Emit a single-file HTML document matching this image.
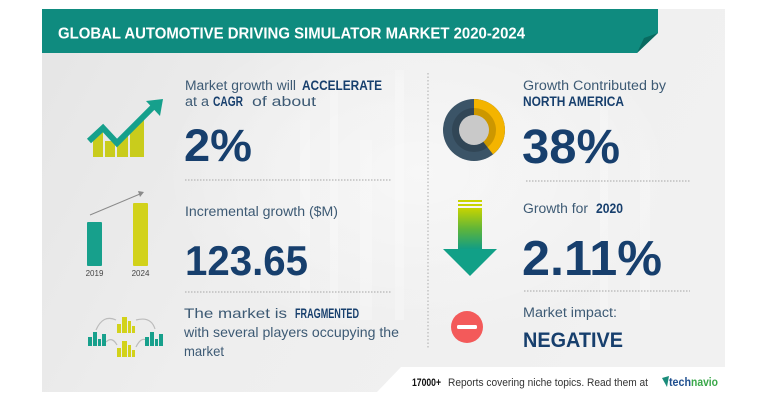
<!DOCTYPE html>
<html><head><meta charset="utf-8"><style>
html,body{margin:0;padding:0;background:#fff;}
svg{display:block;}
text{font-family:"Liberation Sans",sans-serif;}
</style></head><body>
<svg width="768" height="401" viewBox="0 0 768 401" xmlns="http://www.w3.org/2000/svg">
<defs>
<linearGradient id="bg" x1="0" y1="0" x2="1" y2="0.3">
<stop offset="0" stop-color="#e5e5e5"/>
<stop offset="0.45" stop-color="#eeeeee"/>
<stop offset="1" stop-color="#f1f1f1"/>
</linearGradient>
<radialGradient id="glow" cx="0.5" cy="0.45" r="0.5">
<stop offset="0" stop-color="#ffffff" stop-opacity="0.5"/>
<stop offset="1" stop-color="#ffffff" stop-opacity="0"/>
</radialGradient>
<linearGradient id="garrow" x1="0" y1="0" x2="0" y2="1">
<stop offset="0" stop-color="#c8d400"/>
<stop offset="0.5" stop-color="#5fb53a"/>
<stop offset="1" stop-color="#0e9c88"/>
</linearGradient>
</defs>
<rect width="768" height="401" fill="#fff"/>
<!-- panel -->
<polygon points="42,9 725,9 725,367 401,367 377,392 42,392" fill="url(#bg)"/>
<ellipse cx="420" cy="190" rx="260" ry="170" fill="url(#glow)"/>
<!-- faint skyline texture -->
<g fill="#ffffff" opacity="0.25">
<rect x="300" y="120" width="10" height="200"/>
<rect x="330" y="90" width="8" height="230"/>
<rect x="360" y="140" width="12" height="180"/>
<rect x="395" y="70" width="9" height="250"/>
<rect x="600" y="110" width="8" height="200"/>
<rect x="640" y="150" width="10" height="160"/>
</g>
<!-- banner -->
<polygon points="42,9 658,9 658,33 637,53 42,53" fill="#0f8b7f"/>
<polygon points="658,33 644,38 637,53" fill="#096a60"/>
<text x="58" y="38.5" font-size="16" font-weight="bold" fill="#ffffff" textLength="467" lengthAdjust="spacingAndGlyphs">GLOBAL AUTOMOTIVE DRIVING SIMULATOR MARKET 2020-2024</text>

<!-- dividers -->
<line x1="428" y1="73" x2="428" y2="348" stroke="#b8b8b8" stroke-width="1.2" stroke-dasharray="1.5 2"/>
<line x1="185" y1="180" x2="391" y2="180" stroke="#b5b5b5" stroke-width="1.2" stroke-dasharray="1.5 1.5"/>
<line x1="185" y1="292" x2="391" y2="292" stroke="#b5b5b5" stroke-width="1.2" stroke-dasharray="1.5 1.5"/>
<line x1="526" y1="181" x2="690" y2="181" stroke="#b5b5b5" stroke-width="1.2" stroke-dasharray="1.5 1.5"/>
<line x1="524" y1="291" x2="690" y2="291" stroke="#b5b5b5" stroke-width="1.2" stroke-dasharray="1.5 1.5"/>

<!-- growth icon -->
<g fill="#c9cc1c">
<polygon points="93,157 93,139 103,131 103,157"/>
<rect x="105" y="141" width="10" height="16"/>
<polygon points="117,157 117,142 128,135 128,157"/>
<polygon points="130,157 130,130 144,119 144,157"/>
</g>
<polyline points="89,141 103,128 117,143 154,106" fill="none" stroke="#16a08c" stroke-width="6" stroke-linejoin="miter"/>
<polygon points="146,101 163,99 160,116" fill="#16a08c"/>

<!-- top left text -->
<text x="185" y="90" font-size="13.5" fill="#3d5a74" textLength="111" lengthAdjust="spacingAndGlyphs">Market growth will</text>
<text x="302" y="90" font-size="13.5" font-weight="bold" fill="#173f6d" textLength="80" lengthAdjust="spacingAndGlyphs">ACCELERATE</text>
<text x="185" y="106" font-size="13.5" fill="#3d5a74" textLength="24" lengthAdjust="spacingAndGlyphs">at a</text>
<text x="213" y="106" font-size="13.5" font-weight="bold" fill="#173f6d" textLength="30" lengthAdjust="spacingAndGlyphs">CAGR</text>
<text x="252" y="106" font-size="13.5" fill="#3d5a74" textLength="64" lengthAdjust="spacingAndGlyphs">of about</text>
<text x="184" y="161" font-size="45" font-weight="bold" fill="#173f6d" textLength="68" lengthAdjust="spacingAndGlyphs">2%</text>

<!-- donut -->
<circle cx="474" cy="130" r="31" fill="#3b5467"/>
<path d="M474,130 L474,99 A31,31 0 0 1 493.1,154.4 Z" fill="#f4b400"/>
<circle cx="474" cy="130" r="22" fill="#000" opacity="0.16"/>
<circle cx="474" cy="130" r="15" fill="#c9c9c9"/>

<text x="523" y="90" font-size="13.5" fill="#3d5a74" textLength="143" lengthAdjust="spacingAndGlyphs">Growth Contributed by</text>
<text x="523" y="106" font-size="13.5" font-weight="bold" fill="#173f6d" textLength="101" lengthAdjust="spacingAndGlyphs">NORTH AMERICA</text>
<text x="522" y="163" font-size="48" font-weight="bold" fill="#173f6d" textLength="98" lengthAdjust="spacingAndGlyphs">38%</text>

<!-- bar chart icon -->
<rect x="87" y="222" width="15" height="44" rx="1" fill="#17a08c"/>
<rect x="133" y="203" width="15" height="63" rx="1" fill="#d2d21a"/>
<line x1="90" y1="215" x2="140" y2="194" stroke="#8a8a8a" stroke-width="1"/>
<polygon points="138,191 144,192 140,197" fill="#8a8a8a"/>
<text x="94.5" y="276" font-size="8" fill="#444" text-anchor="middle">2019</text>
<text x="140.5" y="276" font-size="8" fill="#444" text-anchor="middle">2024</text>

<text x="185" y="216" font-size="13.5" fill="#3d5a74" textLength="153" lengthAdjust="spacingAndGlyphs">Incremental growth ($M)</text>
<text x="185" y="275" font-size="42" font-weight="bold" fill="#173f6d" textLength="123" lengthAdjust="spacingAndGlyphs">123.65</text>

<!-- green arrow -->
<rect x="458" y="200" width="24" height="2" fill="#c8d400"/>
<rect x="458" y="204" width="24" height="2" fill="#c8d400"/>
<rect x="458" y="208" width="24" height="42" fill="url(#garrow)"/>
<polygon points="443,249 497,249 470,276" fill="#11a087"/>

<text x="523" y="213" font-size="13.5" fill="#3d5a74" textLength="65" lengthAdjust="spacingAndGlyphs">Growth for</text>
<text x="596" y="213" font-size="13.5" font-weight="bold" fill="#173f6d" textLength="27" lengthAdjust="spacingAndGlyphs">2020</text>
<text x="522" y="275" font-size="49" font-weight="bold" fill="#173f6d" textLength="140" lengthAdjust="spacingAndGlyphs">2.11%</text>

<!-- fragmented icon -->
<g fill="none" stroke="#bcbcbc" stroke-width="1.2">
<path d="M96,330 Q103,314 116,320"/>
<path d="M136,320 Q151,316 155,329"/>
<path d="M106,342 Q112,336 117,345"/>
<path d="M136,347 Q141,337 146,340"/>
</g>
<g fill="#17a08c">
<rect x="88" y="337" width="4" height="9"/><rect x="93" y="332" width="4" height="14"/><rect x="98" y="339" width="3" height="7"/><rect x="102" y="334" width="4" height="12"/>
<rect x="145" y="337" width="4" height="9"/><rect x="150" y="332" width="4" height="14"/><rect x="155" y="339" width="3" height="7"/><rect x="159" y="334" width="4" height="12"/>
</g>
<g fill="#d2d21a">
<rect x="117" y="324" width="4" height="9"/><rect x="122" y="317" width="5" height="16"/><rect x="128" y="321" width="3" height="12"/><rect x="132" y="326" width="3" height="7"/>
<rect x="117" y="348" width="4" height="9"/><rect x="122" y="341" width="5" height="16"/><rect x="128" y="345" width="3" height="12"/><rect x="132" y="350" width="3" height="7"/>
</g>

<text x="184" y="318" font-size="14" fill="#3d5a74" textLength="103" lengthAdjust="spacingAndGlyphs">The market is</text>
<text x="295" y="318" font-size="14" font-weight="bold" fill="#173f6d" textLength="64" lengthAdjust="spacingAndGlyphs">FRAGMENTED</text>
<text x="184" y="337" font-size="14" fill="#3d5a74" textLength="215" lengthAdjust="spacingAndGlyphs">with several players occupying the</text>
<text x="184" y="356" font-size="14" fill="#3d5a74" textLength="40" lengthAdjust="spacingAndGlyphs">market</text>

<!-- negative icon -->
<circle cx="467" cy="327" r="16" fill="#f35a5a"/>
<rect x="457" y="325" width="20" height="4" rx="1.5" fill="#ffffff"/>

<text x="523" y="317" font-size="13.5" fill="#3d5a74" textLength="94" lengthAdjust="spacingAndGlyphs">Market impact:</text>
<text x="523" y="347" font-size="21" font-weight="bold" fill="#173f6d" textLength="100" lengthAdjust="spacingAndGlyphs">NEGATIVE</text>

<!-- footer -->
<text x="412" y="386" font-size="11" font-weight="bold" fill="#111" textLength="29" lengthAdjust="spacingAndGlyphs">17000+</text>
<text x="448" y="386" font-size="11" fill="#333" textLength="200" lengthAdjust="spacingAndGlyphs">Reports covering niche topics. Read them at</text>
<polygon points="662,378 669,376 667,387" fill="#1a8c7a"/>
<text x="669" y="386" font-size="12" font-weight="bold" fill="#1f4f8f" textLength="22" lengthAdjust="spacingAndGlyphs">tech</text>
<text x="691" y="386" font-size="12" font-weight="bold" fill="#3aa84a" textLength="27" lengthAdjust="spacingAndGlyphs">navio</text>
</svg>
</body></html>
